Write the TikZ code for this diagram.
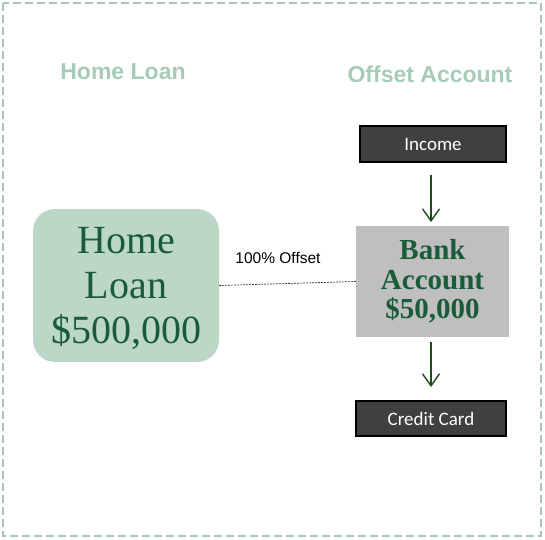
\documentclass[tikz,border=0pt]{standalone}
\usepackage{fontspec}
\setmainfont{Liberation Serif}
\newfontfamily\arialf{Liberation Sans}
\newfontfamily\calibrif{Carlito}
\usetikzlibrary{arrows.meta}
\definecolor{frame}{HTML}{A9C6BA}
\definecolor{ttl}{HTML}{A6CBB6}
\definecolor{dkgreen}{HTML}{1A5C3A}
\definecolor{arrowgreen}{HTML}{1E4A1E}
\definecolor{loanfill}{HTML}{BCD7C6}
\definecolor{bankfill}{HTML}{BFBFBF}
\definecolor{darkbox}{HTML}{404040}
\tikzset{
  titletext/.style={font=\arialf\bfseries\fontsize{23}{27}\selectfont, text=ttl},
  darkbox/.style={draw=black, line width=2pt, fill=darkbox, text=white, font=\calibrif\fontsize{19}{22}\selectfont, inner sep=0pt},
  flowarrow/.style={draw=arrowgreen, line width=1.6pt, -{Straight Barb[length=12pt,width=17pt,line width=1.4pt]}},
}
\begin{document}
\begin{tikzpicture}[x=1pt,y=-1pt]
\useasboundingbox (0,0) rectangle (545,539);
\draw[frame, line width=1.3pt, dash pattern=on 8pt off 4pt] (3,3) rectangle (541,536);
\node[titletext] (t1) at (123,72) {Home Loan};
\node[titletext] (t2) at (430,74) {Offset Account};
\node[darkbox, minimum width=146pt, minimum height=36pt] (inc) at (433,144) {Income};
\node[draw=none, fill=bankfill, minimum width=153pt, minimum height=111pt, inner sep=0pt, align=center, text=dkgreen, font=\bfseries\fontsize{29}{29.5}\selectfont] (bank) at (432.5,281.5) {Bank\\Account\\\$50,000};
\node[fill=loanfill, rounded corners=22pt, minimum width=186pt, minimum height=153pt, inner sep=0pt, align=center, text=dkgreen, font=\fontsize{40}{45}\selectfont] (loan) at (126,285.5) {\rule{0pt}{33pt}Home\\Loan\\\$500,000};
\node[darkbox, minimum width=150pt, minimum height=35pt] (cc) at (431,418.5) {Credit Card};
\coordinate (a1s) at (431,175);
\coordinate (a1e) at (431,222);
\coordinate (a2s) at (431,342);
\coordinate (a2e) at (431,387);
\draw[flowarrow] (a1s) -- (a1e);
\draw[flowarrow] (a2s) -- (a2e);
\draw[black!80, line width=0.7pt, dash pattern=on 2pt off 1pt] (loan.east) -- (bank.west);
\node[text=black, font=\arialf\fontsize{15.5}{18}\selectfont] (lbl) at (278,258) {100\% Offset};
\end{tikzpicture}
\end{document}
